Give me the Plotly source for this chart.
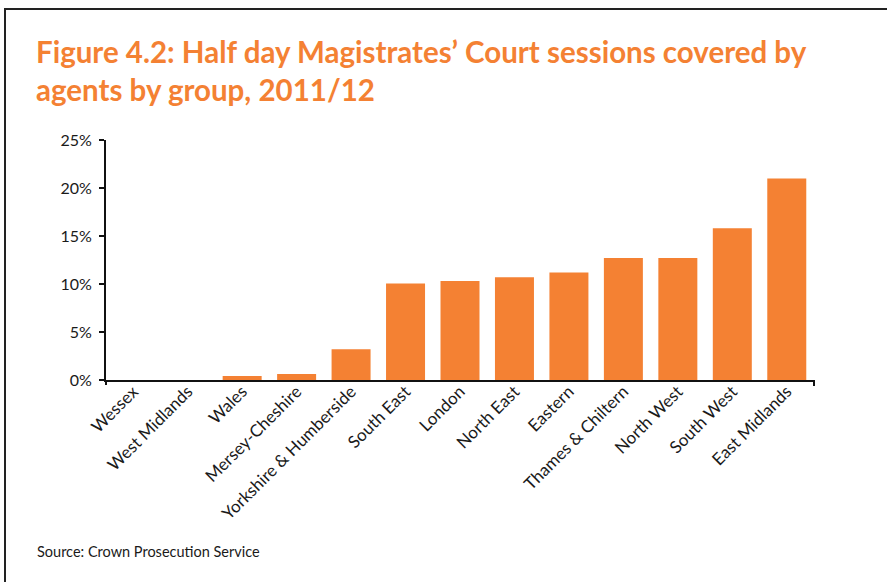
import plotly.graph_objects as go

categories = ["Wessex", "West Midlands", "Wales", "Mersey-Cheshire", "Yorkshire & Humberside",
              "South East", "London", "North East", "Eastern", "Thames & Chiltern",
              "North West", "South West", "East Midlands"]
values = [0.0, 0.0, 0.42, 0.62, 3.2, 10.05, 10.3, 10.7, 11.2, 12.7, 12.7, 15.8, 21.0]
y_ticks = [0, 5, 10, 15, 20, 25]
y_tick_labels = ["0%", "5%", "10%", "15%", "20%", "25%"]

W, H = 887, 582
L, R, T, B = 106, 814, 140, 380
pw, ph = R - L, B - T

def px_x(x):
    return (x - L) / pw

def px_y(y):
    return 1 - (y - T) / ph

fig = go.Figure(go.Bar(x=categories, y=values, marker=dict(color="#F48133", line=dict(width=0))))

font = "Lato, 'Open Sans', sans-serif"
fig.update_layout(
    width=W, height=H,
    margin=dict(l=L, r=W - R, t=T, b=H - B, pad=0),
    paper_bgcolor="white", plot_bgcolor="white",
    bargap=0.284,
    showlegend=False,
    font=dict(family=font, size=16, color="#1a1a1a"),
    xaxis=dict(showline=True, linecolor="#111", linewidth=2, ticks="", tickangle=-45,
               tickfont=dict(size=17), showgrid=False, zeroline=False,
               ticklabelstandoff=-7),
    yaxis=dict(range=[0, 25], tickvals=y_ticks, ticktext=y_tick_labels, showline=True,
               linecolor="#111", linewidth=2, ticks="outside", ticklen=5, tickwidth=2,
               tickcolor="#111", showgrid=False, zeroline=False, tickfont=dict(size=16),
               ticklabelstandoff=4),
    annotations=[
        dict(text="<b>Figure 4.2: Half day Magistrates’ Court sessions covered by<br>agents by group, 2011/12</b>",
             xref="paper", yref="paper", x=px_x(34), y=px_y(32), xanchor="left", yanchor="top",
             align="left", showarrow=False, font=dict(family=font, size=29.5, color="#F48133")),
        dict(text="Source: Crown Prosecution Service", xref="paper", yref="paper",
             x=px_x(35), y=px_y(551), xanchor="left", yanchor="middle", showarrow=False,
             font=dict(family=font, size=14.5, color="#1a1a1a")),
    ],
    shapes=[
        dict(type="line", xref="paper", yref="paper", x0=px_x(4), x1=px_x(900), y0=px_y(9), y1=px_y(9),
             line=dict(color="#222", width=2)),
        dict(type="line", xref="paper", yref="paper", x0=px_x(5), x1=px_x(5), y0=px_y(8), y1=px_y(600),
             line=dict(color="#222", width=2)),
        dict(type="line", xref="paper", yref="paper", x0=1, x1=1, y0=0, y1=px_y(386),
             line=dict(color="#111", width=2)),
        dict(type="line", xref="paper", yref="paper", x0=0, x1=0, y0=0, y1=px_y(385),
             line=dict(color="#111", width=2)),
    ],
)

fig.write_html("out.html", config={"displayModeBar": False},
               post_script="document.body.style.margin='0';document.body.style.overflow='hidden';"
                           "document.documentElement.style.overflow='hidden';")
